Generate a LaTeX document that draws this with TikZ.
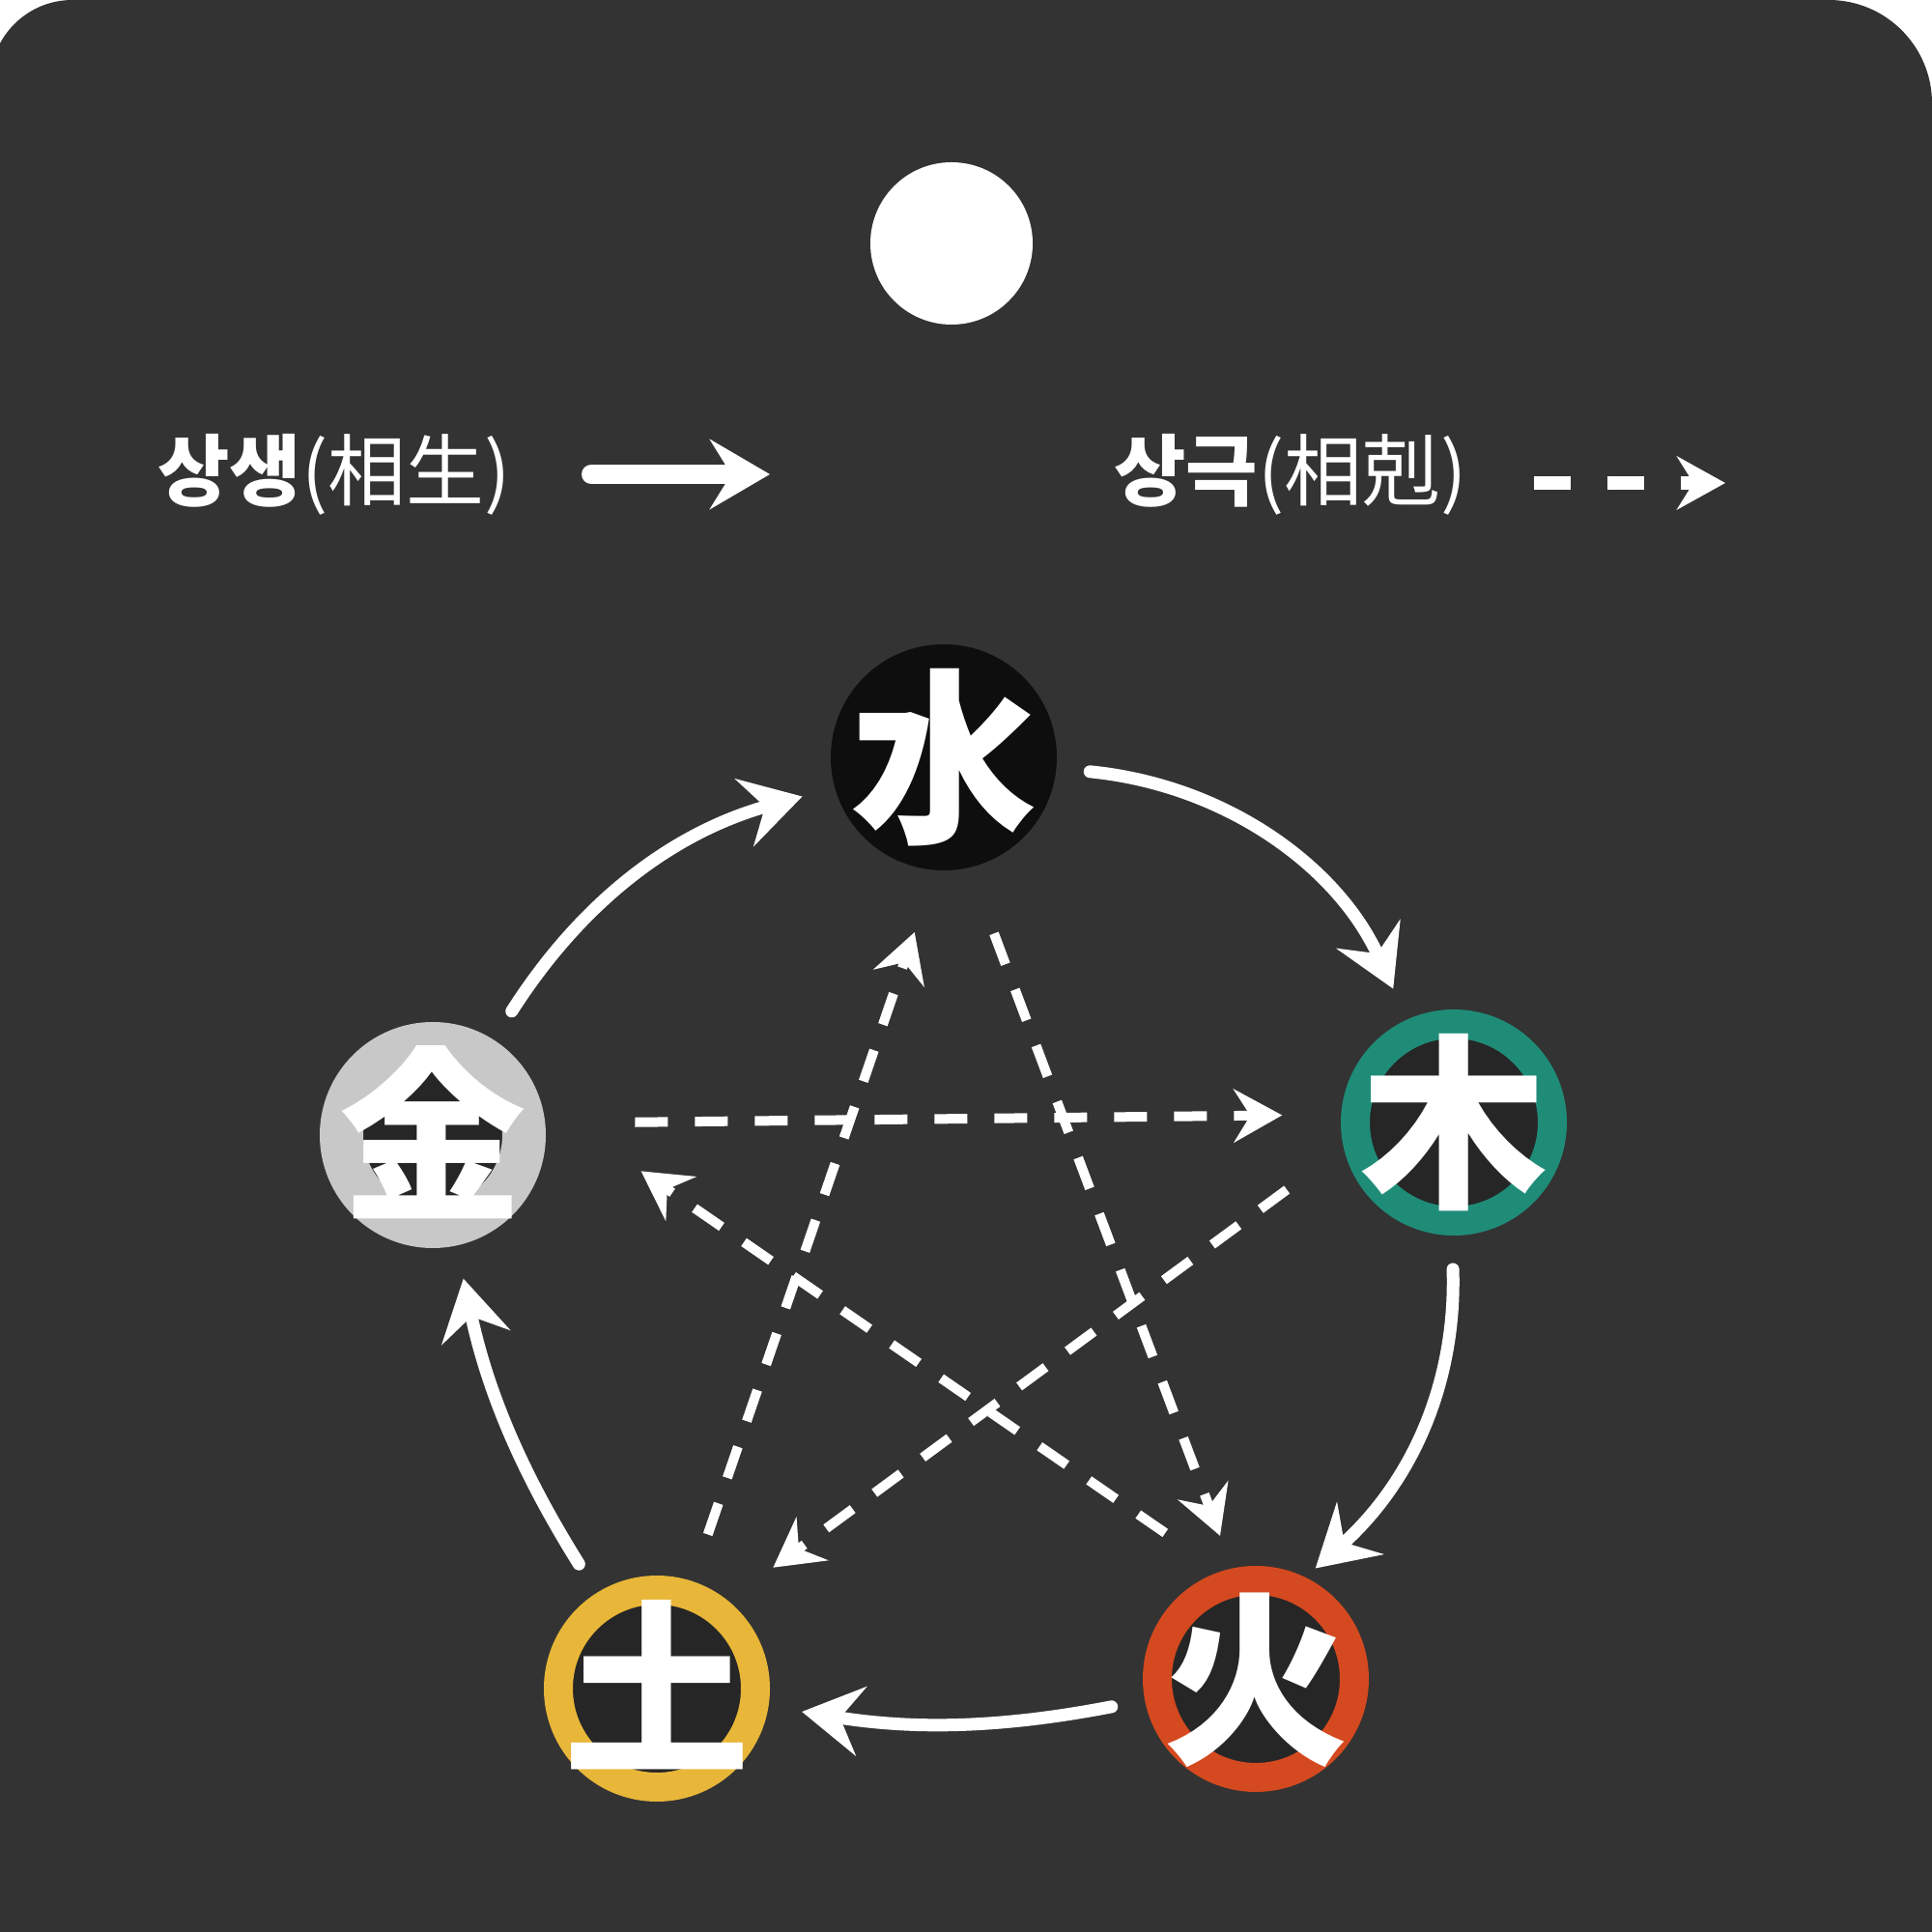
\documentclass[tikz,border=0pt]{standalone}
\usepackage{xcolor}
\usepackage{fontspec}
\usepackage{tikz}
\usetikzlibrary{arrows.meta,positioning}
\newfontfamily\kr{Noto Sans CJK KR}

\definecolor{boardgrey}{HTML}{333333}
\definecolor{inkdark}{HTML}{262626}
\definecolor{waterink}{HTML}{0E0E0E}
\definecolor{woodteal}{HTML}{1F8C78}
\definecolor{firered}{HTML}{D4491F}
\definecolor{earthyellow}{HTML}{E8B638}
\definecolor{metalgrey}{HTML}{C8C8C8}

% glyph centred in its circle, without widening the node
\newcommand{\elemglyph}[1]{\raisebox{-0.38em}[0pt][0pt]{\makebox[0pt]{#1}}}

\tikzset{
    element/.style={
        circle,
        draw=#1,
        line width=0.3cm,
        minimum size=2.04cm,
        inner sep=0pt,
        fill=inkdark,
        text=white,
        font=\kr\bfseries\fontsize{55}{55}\selectfont
    },
    saeng/.style={
        draw=white,
        line width=0.13cm,
        line cap=round,
        -{Stealth[length=0.62cm,width=0.72cm,inset=0.22cm]},
        shorten <=0.35cm,
        shorten >=0.35cm
    },
    geuk/.style={
        draw=white,
        line width=0.1cm,
        dash pattern=on 0.34cm off 0.28cm,
        -{Stealth[length=0.5cm,width=0.55cm,inset=0.17cm]}
    },
    legendtext/.style={
        text=white,
        font=\kr\fontsize{23}{23}\selectfont
    }
}

\begin{document}
\begin{tikzpicture}
                % board with its rounded top corners
                \useasboundingbox (0,0) rectangle (20,20);
                \fill[white] (0,0) rectangle (20,20);
                \fill[
                    boardgrey
                ] (-0.1,-1) -- (-0.1,19.15) arc[start angle=180,end angle=90,radius=0.85]
                  -- (18.93,20) arc[start angle=90,end angle=0,radius=1.07] -- (20,-1) -- cycle;

                % hanging hole
                \fill[white] (9.85,17.48) circle (0.84);

                % legend
                \node[legendtext] (saenglabel) at (3.46,15.09) {{\bfseries 상생}(相生)};
                \coordinate (saengfrom) at (6.12,15.09);
                \coordinate (saengto) at (7.97,15.09);
                \draw[
                    saeng,
                    line width=0.2cm,
                    shorten <=0pt,
                    shorten >=0pt
                ] (saengfrom) -- (saengto);

                \node[legendtext] (geuklabel) at (13.36,15.09) {{\bfseries 상극}(相剋)};
                \coordinate (geukfrom) at (15.88,15.0);
                \coordinate (geukto) at (17.86,15.0);
                \draw[
                    geuk,
                    line width=0.14cm,
                    dash pattern=on 0.38cm off 0.38cm
                ] (geukfrom) -- (geukto);

                % the five elements
                \node[element=waterink, fill=waterink] (water) at (9.77,12.16) {\elemglyph{水}};
                \node[element=woodteal] (wood) at (15.05,8.38) {\elemglyph{木}};
                \node[element=firered] (fire) at (13.00,2.62) {\elemglyph{火}};
                \node[element=earthyellow] (earth) at (6.80,2.52) {\elemglyph{土}};
                \node[
                    element=metalgrey,
                    line width=0.45cm,
                    minimum size=1.89cm
                ] (metal) at (4.48,8.25) {\elemglyph{金}};

                % sangsaeng cycle
                \draw[saeng] (water) to[bend left=30] (wood);
                \draw[saeng, shorten >=0.14cm] (wood.269) to[bend left=25] (fire.64);
                \draw[saeng] (fire) to[bend left=10] (earth);
                \draw[saeng] (earth) to[bend left=10] (metal);
                \draw[saeng] (metal) to[bend left=21] (water);

                % sanggeuk star
                \draw[geuk, shorten <=0.93cm, shorten >=0.61cm] (metal.6) -- (wood.176);
                \draw[geuk, shorten <=0.73cm, shorten >=0.58cm] (wood.193) -- (earth.51);
                \draw[geuk, shorten <=0.51cm, shorten >=0.68cm] (earth.72) -- (water.266);
                \draw[geuk, shorten <=0.73cm, shorten >=0.36cm] (water.283) -- (fire.102);
                \draw[geuk, shorten <=0.7cm, shorten >=1.26cm] (fire.108) -- (metal.17);
\end{tikzpicture}
\end{document}
